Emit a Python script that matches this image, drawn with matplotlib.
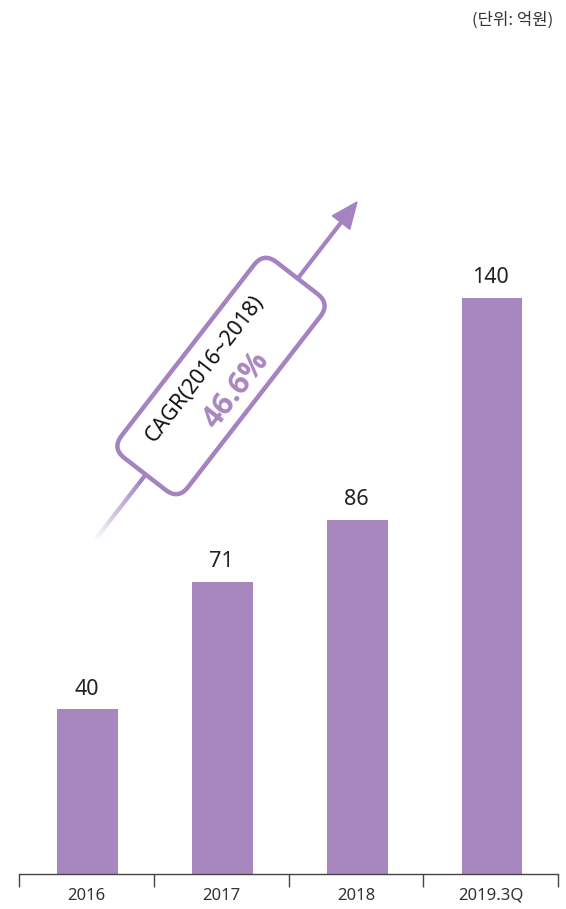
import numpy as np
from matplotlib import pyplot as plt
from matplotlib.patches import FancyBboxPatch, Polygon
from matplotlib.collections import LineCollection
from matplotlib.transforms import Affine2D

years = ["2016", "2017", "2018", "2019.3Q"]
sales = [40, 71, 86, 140]
unit_label = "(단위: 억원)"
cagr_label = "CAGR(2016~2018)"
cagr_value = "46.6%"

BAR = "#a887bf"
LINE = "#a483c0"
W, H = 566, 909

plt.rcParams['font.family'] = ['Noto Sans', 'Noto Sans CJK KR', 'DejaVu Sans']

fig = plt.figure(figsize=(W / 100, H / 100), dpi=100)

# bar axes
base = 874
ax = fig.add_axes([19 / W, 1 - base / H, 539 / W, base / H])
x = np.arange(len(years))
ax.bar(x + 0.01, sales, width=0.45, color=BAR)
for xi, v in zip(x, sales):
    ax.annotate(str(v), (xi, v), xytext=(0, 7), textcoords="offset points",
                ha="center", va="bottom", fontsize=15.5, color="#222222")
ax.set_xlim(-0.5, len(years) - 0.5)
ax.set_ylim(0, base / 4.114)
ax.set_xticks(x)
ax.set_xticklabels(years, fontsize=12, color="#333333")
ax.set_xticks(np.arange(len(years) + 1) - 0.5, minor=True)
ax.tick_params(axis="x", which="major", length=0, pad=10)
ax.tick_params(axis="x", which="minor", length=9, width=1, color="#444444",
               direction="out")
ax.set_yticks([])
for s in ["top", "left", "right"]:
    ax.spines[s].set_visible(False)
ax.spines["bottom"].set_color("#444444")
ax.spines["bottom"].set_linewidth(1)
ax.patch.set_alpha(0)

# overlay in pixel coords for the CAGR arrow
ov = fig.add_axes([0, 0, 1, 1])
ov.set_xlim(0, W)
ov.set_ylim(H, 0)
ov.axis("off")
ov.patch.set_alpha(0)

start = np.array([95.0, 540.0])
tip = np.array([357.0, 202.0])
d = tip - start
length = np.hypot(*d)
u = d / length
perp = np.array([-u[1], u[0]])
angle = np.degrees(np.arctan2(-d[1], d[0]))

# faded tail
n = 40
fade_len = 70
pts = [start + u * fade_len * i / n for i in range(n + 1)]
segs = [[pts[i], pts[i + 1]] for i in range(n)]
cols = [(0.643, 0.514, 0.753, (i + 1) / n) for i in range(n)]
ov.add_collection(LineCollection(segs, colors=cols, linewidths=3, zorder=2,
                                 capstyle="butt"))
head_len = 26
neck = tip - u * head_len
ov.plot([pts[-1][0], neck[0]], [pts[-1][1], neck[1]], color=LINE, lw=3,
        zorder=2, solid_capstyle="butt")
head = [tip, neck + perp * 11, neck - perp * 11]
ov.add_patch(Polygon(head, closed=True, color=LINE, zorder=2))

# rounded box
center = np.array([221.0, 376.0])
bw, bh = 248, 84
box = FancyBboxPatch((-bw / 2, -bh / 2), bw, bh,
                     boxstyle="round,pad=0,rounding_size=16",
                     facecolor="white", edgecolor=LINE, linewidth=3.2,
                     zorder=3)
box.set_transform(Affine2D().rotate_deg(-angle).translate(*center)
                  + ov.transData)
ov.add_patch(box)

p1 = center - perp * 17 - u * 4
ov.text(p1[0], p1[1], cagr_label, rotation=angle, rotation_mode="anchor",
        ha="center", va="center", fontsize=15.5, color="#111111", zorder=4)
p2 = center + perp * 21 - u * 2
ov.text(p2[0], p2[1], cagr_value, rotation=angle, rotation_mode="anchor",
        ha="center", va="center", fontsize=22, fontweight="bold",
        family=['Open Sans', 'DejaVu Sans'], color=BAR, zorder=4)

fig.text(553 / W, 1 - 20 / H, unit_label, ha="right", va="center",
         fontsize=12, color="#333333",
         family=['Noto Sans CJK KR', 'DejaVu Sans'])

fig.savefig("out.png", dpi=100)
